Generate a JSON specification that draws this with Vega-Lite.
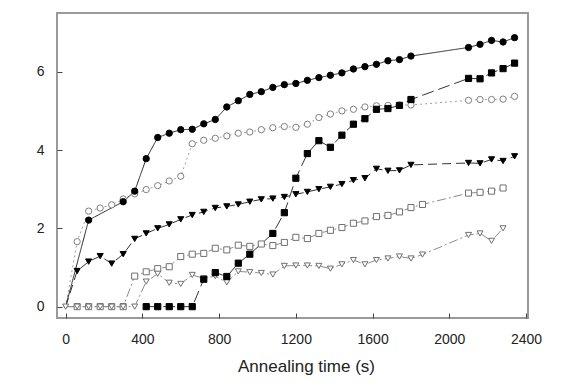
{
"$schema": "https://vega.github.io/schema/vega-lite/v6.json",
"width": 471, "height": 305,
"autosize": {"type": "none"},
"padding": {"left": 57, "top": 13, "right": 50, "bottom": 65},
"background": "white",
"config": {
  "view": {"stroke": "#9a9a9a", "strokeWidth": 2},
  "axis": {"domain": false, "grid": false, "tickSize": -5, "tickColor": "#444", "tickWidth": 1, "labelFont": "Liberation Sans", "titleFont": "Liberation Sans", "labelFontSize": 14, "titleFontSize": 17, "titleFontWeight": "normal", "labelColor": "#222", "titleColor": "#222"}
},
"datasets": {
"pts": [
{"s":"B","t":0,"y":0},{"s":"B","t":60,"y":1.66},{"s":"B","t":120,"y":2.44},{"s":"B","t":180,"y":2.52},{"s":"B","t":240,"y":2.6},{"s":"B","t":300,"y":2.75},{"s":"B","t":360,"y":2.88},{"s":"B","t":420,"y":2.99},{"s":"B","t":480,"y":3.09},{"s":"B","t":540,"y":3.21},{"s":"B","t":600,"y":3.33},{"s":"B","t":660,"y":4.16},{"s":"B","t":720,"y":4.25},{"s":"B","t":780,"y":4.3},{"s":"B","t":840,"y":4.36},{"s":"B","t":900,"y":4.43},{"s":"B","t":960,"y":4.46},{"s":"B","t":1020,"y":4.52},{"s":"B","t":1080,"y":4.57},{"s":"B","t":1140,"y":4.6},{"s":"B","t":1200,"y":4.58},{"s":"B","t":1260,"y":4.66},{"s":"B","t":1320,"y":4.83},{"s":"B","t":1380,"y":4.92},{"s":"B","t":1440,"y":5.0},{"s":"B","t":1500,"y":5.04},{"s":"B","t":1560,"y":5.1},{"s":"B","t":1620,"y":5.13},{"s":"B","t":1680,"y":5.14},{"s":"B","t":1740,"y":5.15},{"s":"B","t":1800,"y":5.15},{"s":"B","t":2100,"y":5.27},{"s":"B","t":2160,"y":5.29},{"s":"B","t":2220,"y":5.29},{"s":"B","t":2280,"y":5.3},{"s":"B","t":2340,"y":5.37},
{"s":"E","t":0,"y":0},{"s":"E","t":60,"y":0},{"s":"E","t":120,"y":0},{"s":"E","t":180,"y":0},{"s":"E","t":240,"y":0},{"s":"E","t":300,"y":0},{"s":"E","t":360,"y":0.78},{"s":"E","t":420,"y":0.89},{"s":"E","t":480,"y":0.97},{"s":"E","t":540,"y":1.02},{"s":"E","t":600,"y":1.28},{"s":"E","t":660,"y":1.34},{"s":"E","t":720,"y":1.36},{"s":"E","t":780,"y":1.49},{"s":"E","t":840,"y":1.45},{"s":"E","t":900,"y":1.57},{"s":"E","t":960,"y":1.54},{"s":"E","t":1020,"y":1.6},{"s":"E","t":1080,"y":1.56},{"s":"E","t":1140,"y":1.64},{"s":"E","t":1200,"y":1.77},{"s":"E","t":1260,"y":1.74},{"s":"E","t":1320,"y":1.87},{"s":"E","t":1380,"y":1.95},{"s":"E","t":1440,"y":2.02},{"s":"E","t":1500,"y":2.13},{"s":"E","t":1560,"y":2.19},{"s":"E","t":1620,"y":2.3},{"s":"E","t":1680,"y":2.33},{"s":"E","t":1740,"y":2.42},{"s":"E","t":1800,"y":2.53},{"s":"E","t":1860,"y":2.61},{"s":"E","t":2100,"y":2.9},{"s":"E","t":2160,"y":2.92},{"s":"E","t":2220,"y":2.95},{"s":"E","t":2280,"y":3.03},
{"s":"F","t":0,"y":0},{"s":"F","t":60,"y":0},{"s":"F","t":120,"y":0},{"s":"F","t":180,"y":0},{"s":"F","t":240,"y":0},{"s":"F","t":300,"y":0},{"s":"F","t":360,"y":0},{"s":"F","t":420,"y":0.64},{"s":"F","t":480,"y":0.84},{"s":"F","t":540,"y":0.61},{"s":"F","t":600,"y":0.58},{"s":"F","t":660,"y":0.81},{"s":"F","t":720,"y":0.72},{"s":"F","t":780,"y":0.78},{"s":"F","t":840,"y":0.62},{"s":"F","t":900,"y":0.9},{"s":"F","t":960,"y":0.88},{"s":"F","t":1020,"y":0.86},{"s":"F","t":1080,"y":0.82},{"s":"F","t":1140,"y":1.04},{"s":"F","t":1200,"y":1.05},{"s":"F","t":1260,"y":1.05},{"s":"F","t":1320,"y":1.04},{"s":"F","t":1380,"y":0.97},{"s":"F","t":1440,"y":1.08},{"s":"F","t":1500,"y":1.19},{"s":"F","t":1560,"y":1.08},{"s":"F","t":1620,"y":1.19},{"s":"F","t":1680,"y":1.23},{"s":"F","t":1740,"y":1.28},{"s":"F","t":1800,"y":1.23},{"s":"F","t":1860,"y":1.33},{"s":"F","t":2100,"y":1.83},{"s":"F","t":2160,"y":1.87},{"s":"F","t":2220,"y":1.68},{"s":"F","t":2280,"y":2.0},
{"s":"A","t":0,"y":0},{"s":"A","t":120,"y":2.21},{"s":"A","t":300,"y":2.68},{"s":"A","t":360,"y":2.95},{"s":"A","t":420,"y":3.78},{"s":"A","t":480,"y":4.32},{"s":"A","t":540,"y":4.43},{"s":"A","t":600,"y":4.52},{"s":"A","t":660,"y":4.53},{"s":"A","t":720,"y":4.67},{"s":"A","t":780,"y":4.78},{"s":"A","t":840,"y":5.1},{"s":"A","t":900,"y":5.26},{"s":"A","t":960,"y":5.42},{"s":"A","t":1020,"y":5.49},{"s":"A","t":1080,"y":5.6},{"s":"A","t":1140,"y":5.67},{"s":"A","t":1200,"y":5.7},{"s":"A","t":1260,"y":5.78},{"s":"A","t":1320,"y":5.85},{"s":"A","t":1380,"y":5.91},{"s":"A","t":1440,"y":5.97},{"s":"A","t":1500,"y":6.07},{"s":"A","t":1560,"y":6.13},{"s":"A","t":1620,"y":6.19},{"s":"A","t":1680,"y":6.28},{"s":"A","t":1740,"y":6.31},{"s":"A","t":1800,"y":6.4},{"s":"A","t":2100,"y":6.62},{"s":"A","t":2160,"y":6.7},{"s":"A","t":2220,"y":6.8},{"s":"A","t":2280,"y":6.76},{"s":"A","t":2340,"y":6.87},
{"s":"C","t":420,"y":0},{"s":"C","t":480,"y":0},{"s":"C","t":540,"y":0},{"s":"C","t":600,"y":0},{"s":"C","t":660,"y":0},{"s":"C","t":720,"y":0.7},{"s":"C","t":780,"y":0.87},{"s":"C","t":840,"y":0.77},{"s":"C","t":900,"y":1.11},{"s":"C","t":960,"y":1.34},{"s":"C","t":1080,"y":1.87},{"s":"C","t":1140,"y":2.4},{"s":"C","t":1200,"y":3.28},{"s":"C","t":1260,"y":3.91},{"s":"C","t":1320,"y":4.24},{"s":"C","t":1380,"y":4.07},{"s":"C","t":1440,"y":4.38},{"s":"C","t":1500,"y":4.66},{"s":"C","t":1560,"y":4.8},{"s":"C","t":1620,"y":5.04},{"s":"C","t":1680,"y":5.06},{"s":"C","t":1740,"y":5.14},{"s":"C","t":1800,"y":5.29},{"s":"C","t":2100,"y":5.83},{"s":"C","t":2160,"y":5.82},{"s":"C","t":2220,"y":5.97},{"s":"C","t":2280,"y":6.08},{"s":"C","t":2340,"y":6.22},
{"s":"D","t":0,"y":0},{"s":"D","t":60,"y":0.91},{"s":"D","t":120,"y":1.15},{"s":"D","t":180,"y":1.29},{"s":"D","t":240,"y":1.1},{"s":"D","t":300,"y":1.34},{"s":"D","t":360,"y":1.73},{"s":"D","t":420,"y":1.87},{"s":"D","t":480,"y":2.0},{"s":"D","t":540,"y":2.1},{"s":"D","t":600,"y":2.23},{"s":"D","t":660,"y":2.34},{"s":"D","t":720,"y":2.42},{"s":"D","t":780,"y":2.52},{"s":"D","t":840,"y":2.56},{"s":"D","t":900,"y":2.61},{"s":"D","t":960,"y":2.68},{"s":"D","t":1020,"y":2.74},{"s":"D","t":1080,"y":2.76},{"s":"D","t":1140,"y":2.8},{"s":"D","t":1200,"y":2.87},{"s":"D","t":1260,"y":2.93},{"s":"D","t":1320,"y":3.0},{"s":"D","t":1380,"y":3.06},{"s":"D","t":1440,"y":3.13},{"s":"D","t":1500,"y":3.23},{"s":"D","t":1560,"y":3.28},{"s":"D","t":1620,"y":3.52},{"s":"D","t":1680,"y":3.47},{"s":"D","t":1740,"y":3.48},{"s":"D","t":1800,"y":3.62},{"s":"D","t":2100,"y":3.67},{"s":"D","t":2160,"y":3.66},{"s":"D","t":2220,"y":3.76},{"s":"D","t":2280,"y":3.72},{"s":"D","t":2340,"y":3.84}
]
},
"data": {"name": "pts"},
"encoding": {
  "x": {"field": "t", "type": "quantitative", "scale": {"domain": [-45, 2410], "nice": false, "zero": false},
        "axis": {"values": [0,400,800,1200,1600,2000,2400], "format": "d", "title": "Annealing time (s)", "labelPadding": 19, "titlePadding": 12, "titleX": 249}},
  "y": {"field": "y", "type": "quantitative", "scale": {"domain": [-0.29, 7.5], "nice": false, "zero": false},
        "axis": {"values": [0,2,4,6], "format": "d", "title": null, "labelPadding": 18}}
},
"layer": [
  {"mark": {"type": "line", "strokeWidth": 1},
   "encoding": {
     "color": {"field": "s", "type": "nominal", "legend": null, "scale": {"domain": ["A","B","C","D","E","F"], "range": ["#222222","#a0a0a0","#333333","#333333","#8c8c8c","#8c8c8c"]}},
     "strokeDash": {"field": "s", "type": "nominal", "legend": null, "scale": {"domain": ["A","B","C","D","E","F"], "range": [[1,0],[2,3],[12,5],[9,5],[9,3,2,3],[9,3,2,3]]}},
     "order": {"field": "t", "type": "quantitative"}
   }},
  {"transform": [{"filter": "datum.t > 0 || datum.s == 'F'"}],
   "mark": {"type": "point", "opacity": 1, "fillOpacity": 1, "strokeWidth": 1},
   "encoding": {
     "shape": {"field": "s", "type": "nominal", "legend": null, "scale": {"domain": ["A","B","C","D","E","F"], "range": ["circle","circle","square","triangle-down","square","triangle-down"]}},
     "fill": {"field": "s", "type": "nominal", "legend": null, "scale": {"domain": ["A","B","C","D","E","F"], "range": ["#000000","#ffffff","#000000","#000000","#ffffff","#ffffff"]}},
     "stroke": {"field": "s", "type": "nominal", "legend": null, "scale": {"domain": ["A","B","C","D","E","F"], "range": ["#000000","#808080","#000000","#000000","#707070","#707070"]}},
     "size": {"field": "s", "type": "nominal", "legend": null, "scale": {"domain": ["A","B","C","D","E","F"], "range": [40,36,44,48,34,40]}}
   }}
]
}
